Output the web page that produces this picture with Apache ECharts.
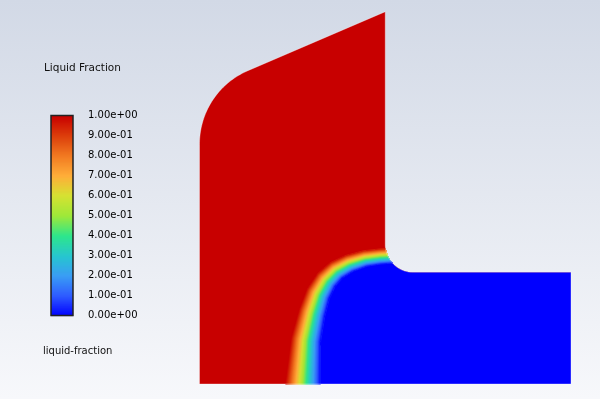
<!DOCTYPE html>
<html><head><meta charset="utf-8">
<script src="https://cdn.jsdelivr.net/npm/echarts@6/dist/echarts.min.js"></script>
<style>html,body{margin:0;padding:0;background:#fff}#c{width:600px;height:399px}</style>
</head><body><div id="c"></div>
<script>
// ---- legend ----
const legendTitle = 'Liquid Fraction';
const fieldName = 'liquid-fraction';
const tickValues = [0, 0.1, 0.2, 0.3, 0.4, 0.5, 0.6, 0.7, 0.8, 0.9, 1.0];
const colormap = ['#0000ff', '#2f5bff', '#3a9df5', '#27c6cf', '#2ee68c', '#9ee83a',
                  '#d5e232', '#ffae3a', '#f27a22', '#dc3f0c', '#c80000'];

// ---- geometry (model units) ----
const domainW = 100, domainH = 100;
const channelTop = 30;        // top of right horizontal channel
const wallX = 50;             // right wall of vertical part
const filletR = 7.5;
const slantTop = [50, 100];
const slantSlope = 0.43;
const leftArcR = 21.5;
const leftArcCY = 64.4;

// ---- interface (0.5 iso-line) and band width (0 -> 1 span) ----
const ifaceX = [27.86, 27.86, 28.67, 30.28, 31.9, 34.05, 36.74, 40.24, 44.55, 48.59, 52.62];
const ifaceY = [-5, 0, 11.82, 19.07, 24.17, 27.93, 30.62, 32.5, 33.84, 34.38, 34.65];
const bandW  = [9.5, 9.5, 8.0, 7.2, 6.6, 6.0, 5.4, 4.9, 4.5, 4.3, 4.3];

// ---------------------------------------------------------------
function arcPts(cx, cy, r, a0, a1, n) {
  const pts = [];
  for (let k = 0; k <= n; k++) { const a = a0 + (a1 - a0) * k / n; pts.push([cx + r * Math.cos(a), cy + r * Math.sin(a)]); }
  return pts;
}
const fcx = wallX + filletR, fcy = channelTop + filletR;
// tangent point of slant with left arc
const lcx = leftArcR, lcy = leftArcCY;
const un = Math.hypot(1, slantSlope), ux = 1 / un, uy = slantSlope / un;
const tt = (lcx - slantTop[0]) * ux + (lcy - slantTop[1]) * uy;
const T = [slantTop[0] + tt * ux, slantTop[1] + tt * uy];
const aT = Math.atan2(T[1] - lcy, T[0] - lcx);

const domainPts = [[0, 0], [domainW, 0], [domainW, channelTop], [fcx, channelTop]]
  .concat(arcPts(fcx, fcy, filletR, -Math.PI / 2, -Math.PI, 30))
  .concat([slantTop])
  .concat(arcPts(lcx, lcy, leftArcR, aT, Math.PI, 50))
  .concat([[0, 0]]);

// blue polygon bounded by the 0.5 iso-line
const lastI = 9;
const yEnd = ifaceY[lastI];
const xEnd = fcx - Math.sqrt(filletR * filletR - (fcy - yEnd) * (fcy - yEnd));
const aEnd = Math.atan2(yEnd - fcy, xEnd - fcx);
let bluePts = [];
for (let i = 1; i <= lastI; i++) bluePts.push([ifaceX[i], ifaceY[i]]);
bluePts = bluePts.concat(arcPts(fcx, fcy, filletR, aEnd, -Math.PI / 2, 20))
  .concat([[domainW, channelTop], [domainW, 0]]);

// field across the band
const segs = [];
let sAcc = 0;
for (let i = 0; i < ifaceX.length - 1; i++) {
  const ax = ifaceX[i], ay = ifaceY[i], bx = ifaceX[i + 1], by = ifaceY[i + 1];
  const L = Math.hypot(bx - ax, by - ay);
  segs.push({ ax, ay, dx: (bx - ax) / L, dy: (by - ay) / L, L, w0: bandW[i], w1: bandW[i + 1] });
}
function fieldAt(x, y) {
  let best = Infinity, val = 0.5;
  for (const s of segs) {
    let t = (x - s.ax) * s.dx + (y - s.ay) * s.dy;
    const tc = Math.max(0, Math.min(s.L, t));
    const px = s.ax + s.dx * tc, py = s.ay + s.dy * tc;
    const dist = Math.hypot(x - px, y - py);
    if (dist < best) {
      best = dist;
      const sign = (s.dx * (y - s.ay) - s.dy * (x - s.ax)) >= 0 ? 1 : -1;
      const w = s.w0 + (s.w1 - s.w0) * (tc / s.L);
      val = 0.5 + sign * dist / w;
    }
  }
  return Math.max(0, Math.min(1, val));
}
function inside(x, y) {
  if (x < 0 || x > domainW || y < 0) return false;
  if (y <= channelTop) return true;
  if (x <= wallX) return true;
  if (x < fcx && y < fcy && Math.hypot(x - fcx, y - fcy) > filletR) return true;
  return false;
}
const DX = domainW / 371.5, DY = domainH / 372.3;
const cells = [];
for (let x = 15; x < 58; x += DX) {
  for (let y = 0; y < 45; y += DY) {
    const cx = x + DX / 2, cy = y + DY / 2;
    if (!inside(cx, cy)) continue;
    const v = fieldAt(cx, cy);
    if (v > 0.003 && v < 0.997) cells.push([x, y, v]);
  }
}
const barData = [];
const NB = 200;
for (let k = 0; k < NB; k++) barData.push([0, k / NB, (k + 0.5) / NB]);

function fmt(v) {
  const s = Number(v).toExponential(2);
  const m = s.match(/^(-?[\d.]+)e([+-])(\d+)$/);
  return m[1] + 'e' + m[2] + (m[3].length < 2 ? '0' + m[3] : m[3]);
}

const chart = echarts.init(document.getElementById('c'), null, { renderer: 'canvas' });
const polySeries = (pts, style, z) => ({
  type: 'custom', xAxisIndex: 0, yAxisIndex: 0, z, data: [[0, 0]], silent: true,
  renderItem: (p, api) => ({ type: pts.closed === false ? 'polyline' : 'polygon',
    shape: { points: pts.map(q => api.coord(q)) }, style })
});
const outline = domainPts.slice(); outline.closed = false;

chart.setOption({
  animation: false,
  backgroundColor: new echarts.graphic.LinearGradient(0, 0, 0, 1, [
    { offset: 0, color: '#d2d9e6' }, { offset: 1, color: '#f7f8fb' }]),
  grid: [
    { left: 199.5, top: 11.7, width: 371.5, height: 372.3 },
    { left: 51, top: 115.5, width: 22, height: 200 }
  ],
  xAxis: [
    { type: 'value', gridIndex: 0, min: 0, max: domainW, show: false },
    { type: 'value', gridIndex: 1, min: 0, max: 1, show: false }
  ],
  yAxis: [
    { type: 'value', gridIndex: 0, min: 0, max: domainH, show: false },
    { type: 'value', gridIndex: 1, min: 0, max: 1, interval: 0.1, position: 'right',
      axisLine: { show: false }, splitLine: { show: false },
      axisTick: { show: true, length: 3, lineStyle: { color: '#333', width: 1 },
        customValues: tickValues.slice(1, -1) },
      axisLabel: { margin: 15, color: '#000', fontSize: 10, fontFamily: 'DejaVu Sans', formatter: fmt } }
  ],
  visualMap: { type: 'continuous', show: false, min: 0, max: 1, dimension: 2,
    seriesIndex: [2, 4], inRange: { color: colormap } },
  series: [
    polySeries(domainPts, { fill: '#c80000' }, 1),
    polySeries(bluePts, { fill: '#0000ff' }, 2),
    { type: 'custom', xAxisIndex: 0, yAxisIndex: 0, z: 3, clip: true, silent: true, data: cells,
      renderItem: (p, api) => {
        const a = api.coord([api.value(0), api.value(1) + DY]);
        const s = api.size([DX, DY]);
        return { type: 'rect', shape: { x: a[0], y: a[1], width: s[0] + 0.6, height: s[1] + 0.6 },
          style: { fill: api.visual('color') } };
      } },
    polySeries(outline, { fill: 'none', stroke: 'rgba(255,255,255,0.35)', lineWidth: 1 }, 4),
    { type: 'custom', xAxisIndex: 1, yAxisIndex: 1, z: 3, silent: true, data: barData,
      renderItem: (p, api) => {
        const a = api.coord([0, api.value(1) + 1 / NB]);
        const b = api.coord([1, api.value(1)]);
        return { type: 'rect', shape: { x: a[0], y: a[1], width: b[0] - a[0], height: b[1] - a[1] + 0.6 },
          style: { fill: api.visual('color') } };
      } },
    { type: 'custom', xAxisIndex: 1, yAxisIndex: 1, z: 5, silent: true, data: [[0, 0]],
      renderItem: (p, api) => {
        const a = api.coord([0, 1]), b = api.coord([1, 0]);
        return { type: 'rect', shape: { x: a[0], y: a[1], width: b[0] - a[0], height: b[1] - a[1] },
          style: { fill: 'none', stroke: '#222', lineWidth: 1.5 } };
      } }
  ],
  graphic: [
    { type: 'text', x: 44, y: 68, style: { text: legendTitle, fill: '#111', font: '10.5px "DejaVu Sans"',
      textAlign: 'left', textVerticalAlign: 'middle', align: 'left', verticalAlign: 'middle' } },
    { type: 'text', x: 43, y: 351, style: { text: fieldName, fill: '#111', font: '10px "DejaVu Sans"',
      textAlign: 'left', textVerticalAlign: 'middle', align: 'left', verticalAlign: 'middle' } }
  ]
});
</script></body></html>
